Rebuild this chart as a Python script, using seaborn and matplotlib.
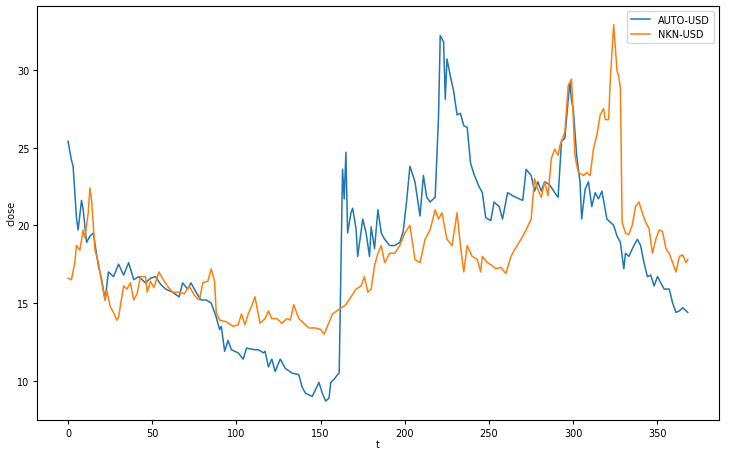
import numpy as np  # arrays
import pandas as pd  # data frames
import matplotlib.pyplot as plt  # plotting
import seaborn as sb  # plotting

plt.rcParams['font.size'] = 7
plt.rcParams['xtick.major.size'] = 2.8
plt.rcParams['ytick.major.size'] = 2.8
plt.rcParams['xtick.major.pad'] = 2.8
plt.rcParams['ytick.major.pad'] = 2.8

# DATA

auto_t = [0, 2, 3, 5, 6, 8, 9, 11, 13, 15, 18, 20, 22, 24, 27, 30, 33, 36, 39, 42,
          46, 49, 52, 55, 58, 62, 66, 68, 71, 73, 76, 79, 82, 85, 88, 90, 91, 93, 95, 97,
          101, 104, 106, 111, 113, 116, 117, 119, 121, 123, 126, 129, 133, 137, 139, 141, 145, 149, 151, 153,
          155, 156, 158, 160, 161, 163, 164, 165, 166, 168, 169, 171, 172, 175, 177, 179, 180, 182, 184, 186,
          188, 191, 194, 197, 199, 201, 203, 206, 209, 211, 213, 215, 218, 220, 221, 223, 224, 225, 227, 229,
          231, 233, 235, 237, 239, 241, 244, 246, 248, 251, 253, 256, 258, 261, 264, 268, 270, 272, 275, 277,
          279, 281, 283, 286, 289, 291, 293, 295, 297, 298, 299, 300, 301, 302, 304, 305, 307, 309, 311, 313,
          315, 317, 320, 322, 324, 326, 328, 330, 331, 333, 336, 338, 340, 342, 344, 346, 348, 350, 352, 354,
          357, 359, 361, 363, 365, 367, 368]
auto_close = [25.4, 24.2, 23.8, 20.5, 19.7, 21.6, 21.0, 18.9, 19.3, 19.5, 17.4, 16.5, 15.2, 17.0, 16.7, 17.5, 16.8, 17.6, 16.5, 16.7,
              16.3, 16.6, 16.7, 16.2, 15.9, 15.7, 15.4, 16.3, 15.9, 16.3, 15.7, 15.2, 15.2, 15.0, 14.1, 13.3, 13.5, 11.9, 12.6, 12.0,
              11.8, 11.4, 12.1, 12.0, 12.0, 11.8, 11.9, 10.9, 11.4, 10.6, 11.4, 10.8, 10.5, 10.4, 9.6, 9.2, 9.0, 9.9, 9.2, 8.7,
              8.9, 9.9, 10.1, 10.4, 10.5, 23.6, 21.7, 24.7, 19.5, 20.8, 21.1, 19.8, 18.0, 20.4, 19.5, 18.0, 19.9, 18.5, 21.0, 19.5,
              19.1, 18.7, 18.7, 18.9, 19.6, 21.5, 23.8, 22.8, 20.6, 23.2, 21.8, 21.5, 21.8, 27.0, 32.2, 31.8, 28.1, 30.7, 29.6, 28.6,
              27.1, 27.2, 26.4, 26.3, 24.0, 23.3, 22.5, 22.1, 20.5, 20.3, 21.5, 21.2, 20.4, 22.1, 21.9, 21.7, 21.6, 23.6, 23.2, 22.2,
              22.8, 22.2, 22.8, 22.6, 22.1, 21.8, 25.4, 25.6, 28.1, 29.2, 28.0, 27.5, 26.0, 24.5, 22.8, 20.4, 22.3, 22.8, 21.2, 22.1,
              21.7, 22.2, 20.4, 20.2, 20.0, 19.3, 18.9, 17.2, 18.2, 18.0, 18.7, 19.1, 18.7, 17.6, 16.7, 16.8, 16.1, 16.7, 16.3, 15.9,
              15.9, 15.0, 14.4, 14.5, 14.7, 14.5, 14.4]

nkn_t = [0, 2, 4, 5, 7, 9, 10, 12, 13, 14, 16, 18, 20, 22, 23, 25, 27, 29, 30, 33,
         35, 37, 39, 41, 43, 46, 47, 49, 51, 54, 56, 59, 62, 66, 69, 72, 75, 78, 80, 83,
         85, 87, 88, 90, 94, 98, 101, 103, 105, 107, 109, 111, 114, 117, 119, 121, 124, 127, 130, 132,
         134, 137, 140, 143, 147, 150, 152, 154, 157, 161, 165, 168, 171, 174, 176, 178, 180, 182, 184, 186,
         188, 191, 194, 197, 200, 203, 206, 209, 212, 215, 218, 220, 222, 225, 228, 231, 233, 235, 237, 240,
         243, 245, 246, 249, 252, 254, 257, 260, 263, 265, 269, 272, 275, 277, 279, 281, 283, 285, 287, 289,
         291, 292, 295, 297, 299, 301, 302, 303, 306, 308, 310, 312, 314, 316, 318, 319, 321, 322, 324, 326,
         327, 328, 329, 331, 333, 335, 337, 339, 341, 343, 345, 347, 349, 351, 353, 355, 357, 359, 361, 363,
         365, 367, 368]
nkn_close = [16.6, 16.5, 17.6, 18.7, 18.4, 19.7, 19.2, 20.8, 22.4, 21.6, 18.4, 17.6, 16.3, 15.2, 15.8, 14.8, 14.4, 13.9, 14.1, 16.1,
             15.9, 16.3, 15.2, 15.6, 16.7, 16.7, 15.7, 16.4, 16.0, 17.0, 16.6, 16.1, 15.7, 15.7, 15.6, 16.1, 15.5, 15.2, 16.3, 16.4,
             17.2, 16.4, 14.4, 13.9, 13.8, 13.5, 13.6, 14.3, 13.6, 14.3, 14.8, 15.4, 13.7, 14.0, 14.5, 14.0, 14.0, 13.7, 14.0, 13.9,
             14.9, 14.0, 13.7, 13.4, 13.4, 13.3, 13.0, 13.5, 14.3, 14.6, 14.9, 15.4, 15.9, 16.1, 16.7, 15.7, 15.9, 17.4, 18.2, 18.7,
             17.6, 18.2, 18.2, 18.7, 19.5, 20.0, 17.8, 17.6, 19.1, 19.7, 21.0, 20.4, 20.8, 19.1, 18.7, 20.8, 18.7, 17.0, 18.7, 18.0,
             17.8, 17.0, 18.0, 17.6, 17.4, 17.2, 17.3, 16.9, 18.0, 18.4, 19.1, 19.7, 20.4, 23.0, 22.3, 21.8, 22.8, 21.9, 24.3, 24.9,
             24.5, 25.1, 26.0, 29.0, 29.4, 24.5, 23.9, 23.4, 23.2, 23.4, 23.2, 24.9, 25.8, 27.1, 27.5, 26.8, 26.8, 29.4, 32.9, 29.9,
             29.6, 28.8, 20.2, 19.5, 19.4, 20.0, 21.2, 21.5, 20.8, 20.2, 19.8, 18.2, 19.1, 19.7, 19.6, 18.5, 18.2, 17.6, 17.0, 18.0,
             18.1, 17.6, 17.8]

auto_df = pd.DataFrame({'t': auto_t, 'close': auto_close})
nkn_df = pd.DataFrame({'t': nkn_t, 'close': nkn_close})

# PLOT

fig, ax = plt.subplots(figsize=(7.41, 4.56), dpi=100)
fig.subplots_adjust(left=0.05, right=0.97, top=0.985, bottom=0.077)

sb.lineplot(data=auto_df, x='t', y='close', ax=ax, label='AUTO-USD', color='#1f77b4', linewidth=1.1)
sb.lineplot(data=nkn_df, x='t', y='close', ax=ax, label='NKN-USD', color='#ff7f0e', linewidth=1.1)

ax.set_xticks(np.arange(0, 351, 50))
ax.set_yticks([10, 15, 20, 25, 30])
ax.set_xlabel('t', labelpad=1)
ax.set_ylabel('close', labelpad=0)
ax.legend(loc='upper right')

plt.savefig('out.png')
